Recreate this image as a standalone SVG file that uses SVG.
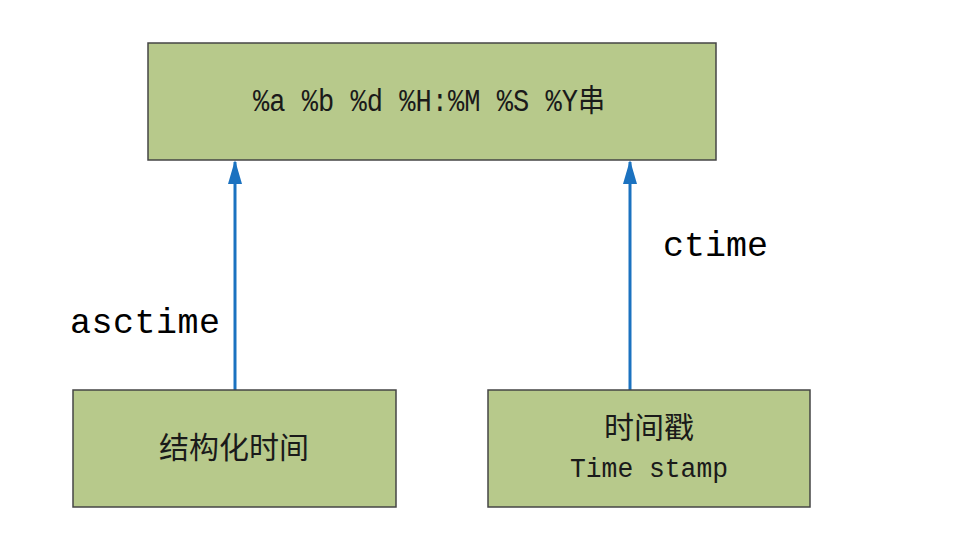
<svg xmlns="http://www.w3.org/2000/svg" width="976" height="547" viewBox="0 0 976 547">
<defs>
<style>
.box{fill:#b7c98b;stroke:#454545;stroke-width:1.5}
.mono{font-family:"Liberation Mono","Noto Sans CJK SC",monospace;fill:#1a1a1a}
.cjk{font-family:"Noto Sans CJK SC",sans-serif;fill:#1a1a1a}
.lbl{font-family:"Liberation Mono",monospace;fill:#000;font-size:35px}
.conn{stroke:#1b72c0;stroke-width:3;fill:none}
</style>
<marker id="arr" viewBox="0 0 24 14" refX="22" refY="7" markerWidth="24" markerHeight="14" orient="auto" markerUnits="userSpaceOnUse">
<path d="M0,0 L24,7 L0,14 z" fill="#1b72c0"/>
</marker>
</defs>
<rect width="976" height="547" fill="#ffffff"/>
<g id="connectors">
<line class="conn" x1="235" y1="390" x2="235" y2="162" marker-end="url(#arr)"/>
<line class="conn" x1="630" y1="390" x2="630" y2="162" marker-end="url(#arr)"/>
<text class="lbl" x="70" y="333" textLength="150">asctime</text>
<text class="lbl" x="663" y="256" textLength="105">ctime</text>
</g>
<g id="top">
<rect class="box" x="148" y="43" width="568" height="117"/>
<text class="mono" x="253" y="111" font-size="31" textLength="352" lengthAdjust="spacingAndGlyphs">%a %b %d %H:%M %S %Y串</text>
</g>
<g id="struct">
<rect class="box" x="73" y="390" width="323" height="117"/>
<text class="cjk" x="234" y="458" font-size="30" text-anchor="middle">结构化时间</text>
</g>
<g id="stamp">
<rect class="box" x="488" y="390" width="322" height="117"/>
<text class="cjk" x="649" y="438" font-size="30" text-anchor="middle">时间戳</text>
<text class="mono" x="649" y="477" font-size="27" text-anchor="middle" textLength="158" lengthAdjust="spacingAndGlyphs">Time stamp</text>
</g>
</svg>
